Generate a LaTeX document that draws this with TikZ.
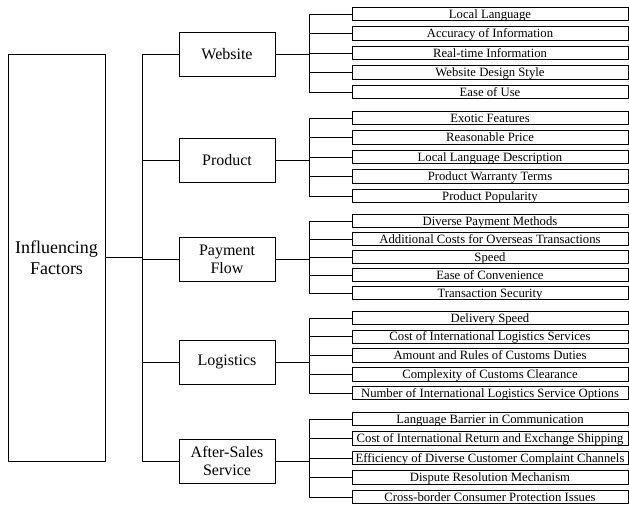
\documentclass[tikz,border=0pt]{standalone}
\usepackage{fontspec}
\setmainfont{Liberation Serif}
\begin{document}
\begin{tikzpicture}[x=1pt,y=-1pt,
  box/.style={draw=black, line width=0.9pt, inner sep=0pt},
  leaf/.style={box, minimum width=276pt, minimum height=13.5pt, text height=9pt, text depth=1pt, font=\fontsize{12.7}{14}\selectfont},
  cat/.style={box, align=center, minimum width=96pt, minimum height=44pt, font=\fontsize{16}{18}\selectfont},
  mainbox/.style={box, align=center, minimum width=97pt, minimum height=407pt, font=\fontsize{18}{21}\selectfont},
  conn/.style={line width=0.9pt, draw=black}]
\useasboundingbox (0,0) rectangle (629,504);

\node[mainbox] (main) at (56.5,257.5) {Influencing\\Factors};

\node[cat] (c1) at (227,54) {Website};
\node[cat] (c2) at (227,160) {Product};
\node[cat] (c3) at (227,259) {Payment\\Flow};
\node[cat] (c4) at (227,362) {Logistics};
\node[cat] (c5) at (227,461) {After-Sales\\Service};

\coordinate (T) at (142,0);
\coordinate (L) at (309,0);

% Website
\node[leaf] (l11) at (490,14) {Local Language};
\node[leaf] (l12) at (490,33.5) {Accuracy of Information};
\node[leaf] (l13) at (490,53) {Real-time Information};
\node[leaf] (l14) at (490,72.5) {Website Design Style};
\node[leaf] (l15) at (490,92) {Ease of Use};
% Product
\node[leaf] (l21) at (490,118) {Exotic Features};
\node[leaf] (l22) at (490,137.5) {Reasonable Price};
\node[leaf] (l23) at (490,157) {Local Language Description};
\node[leaf] (l24) at (490,176.5) {Product Warranty Terms};
\node[leaf] (l25) at (490,196) {Product Popularity};
% Payment Flow
\node[leaf] (l31) at (490,221) {Diverse Payment Methods};
\node[leaf] (l32) at (490,239) {Additional Costs for Overseas Transactions};
\node[leaf] (l33) at (490,257) {Speed};
\node[leaf] (l34) at (490,275) {Ease of Convenience};
\node[leaf] (l35) at (490,293) {Transaction Security};
% Logistics
\node[leaf] (l41) at (490,318) {Delivery Speed};
\node[leaf] (l42) at (490,336.75) {Cost of International Logistics Services};
\node[leaf] (l43) at (490,355.5) {Amount and Rules of Customs Duties};
\node[leaf] (l44) at (490,374.25) {Complexity of Customs Clearance};
\node[leaf] (l45) at (490,393) {Number of International Logistics Service Options};
% After-Sales Service
\node[leaf] (l51) at (490,419) {Language Barrier in Communication};
\node[leaf] (l52) at (490,438.5) {Cost of International Return and Exchange Shipping};
\node[leaf] (l53) at (490,458) {Efficiency of Diverse Customer Complaint Channels};
\node[leaf] (l54) at (490,477.5) {Dispute Resolution Mechanism};
\node[leaf] (l55) at (490,497) {Cross-border Consumer Protection Issues};

% main to categories
\draw[conn] (main.east) -- (main.east -| T);
\draw[conn] (c1.west -| T) -- (c5.west -| T);
\foreach \c in {c1,c2,c3,c4,c5} {
  \draw[conn] (\c.west -| T) -- (\c.west);
}

% categories to leaves
\foreach \g in {1,...,5} {
  \draw[conn] (c\g.east) -- (c\g.east -| L);
  \draw[conn] (l\g1.west -| L) -- (l\g5.west -| L);
  \foreach \k in {1,...,5} {
    \draw[conn] (l\g\k.west -| L) -- (l\g\k.west);
  }
}
\end{tikzpicture}
\end{document}
